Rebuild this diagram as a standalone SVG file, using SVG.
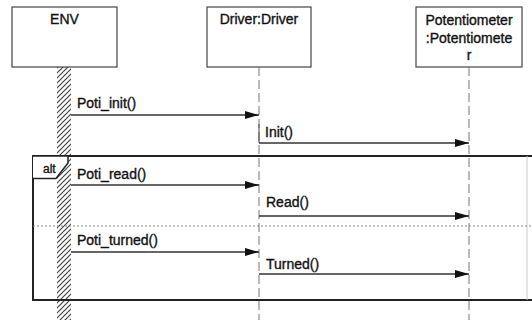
<svg xmlns="http://www.w3.org/2000/svg" width="532" height="320" viewBox="0 0 532 320">
  <defs>
    <pattern id="hatch" patternUnits="userSpaceOnUse" width="5" height="5">
      <path d="M-1,1 L1,-1 M0,5 L5,0 M4,6 L6,4" stroke="#444" stroke-width="1.2"/>
    </pattern>
    <marker id="arrow" viewBox="0 0 14 8" refX="14" refY="4" markerWidth="14" markerHeight="8" markerUnits="userSpaceOnUse" orient="auto">
      <path d="M0,0 L14,4 L0,8 Z" fill="#111"/>
    </marker>
  </defs>
  <style>
    text { font-family: "Liberation Sans", Arial, sans-serif; font-size: 14px; fill: #111; stroke: #111; stroke-width: 0.35; }
    .box { fill: #fff; stroke: #444; stroke-width: 1.2; }
    .life { stroke: #777; stroke-width: 1; stroke-dasharray: 9 4; fill: none; }
    .msg { stroke: #333; stroke-width: 1.3; fill: none; marker-end: url(#arrow); }
    .frame { fill: none; stroke: #222; stroke-width: 2; }
    .sep { stroke: #888; stroke-width: 1.2; stroke-dasharray: 2 2; }
    .ctr { text-anchor: middle; }
  </style>
  <rect width="532" height="320" fill="#fff"/>

  <g id="env">
    <rect class="box" x="12" y="7" width="105" height="60"/>
    <text class="ctr" x="64.5" y="24">ENV</text>
    <rect x="57" y="67" width="14" height="253" fill="url(#hatch)"/>
  </g>

  <g id="driver">
    <rect class="box" x="207" y="7" width="104" height="60"/>
    <text class="ctr" x="259" y="24">Driver:Driver</text>
    <line class="life" x1="259" y1="67" x2="259" y2="320"/>
  </g>

  <g id="potentiometer">
    <rect class="box" x="416" y="7" width="106" height="60"/>
    <text class="ctr" x="469" y="25">Potentiometer</text>
    <text class="ctr" x="469" y="43">:Potentiomete</text>
    <text class="ctr" x="469" y="60">r</text>
    <line class="life" x1="469" y1="67" x2="469" y2="320"/>
  </g>

  <g id="alt">
    <path class="frame" d="M540,156 L33,156 L33,300 L540,300"/>
    <line x1="527" y1="156" x2="527" y2="300" stroke="#ccc" stroke-width="1"/>
    <path d="M33,156 L68,156 L68,163 L56,178.5 L33,178.5" fill="#fff" stroke="#222" stroke-width="1.5"/>
    <text x="43" y="173" style="font-size:12px">alt</text>
    <line class="sep" x1="33" y1="226" x2="532" y2="226"/>
  </g>

  <g id="connectors">
    <line class="msg" x1="71" y1="115" x2="259" y2="115"/>
    <text x="77" y="108">Poti_init()</text>
    <line x1="259" y1="124" x2="259" y2="143" stroke="#444" stroke-width="1"/>
    <line class="msg" x1="259" y1="143" x2="469" y2="143"/>
    <text x="265" y="137">Init()</text>

    <line class="msg" x1="71" y1="185" x2="259" y2="185"/>
    <text x="77" y="179">Poti_read()</text>
    <line class="msg" x1="259" y1="216" x2="469" y2="216"/>
    <text x="266" y="207">Read()</text>

    <line class="msg" x1="71" y1="252" x2="259" y2="252"/>
    <text x="77" y="245">Poti_turned()</text>
    <line class="msg" x1="259" y1="274" x2="469" y2="274"/>
    <text x="266" y="269">Turned()</text>
  </g>
</svg>
